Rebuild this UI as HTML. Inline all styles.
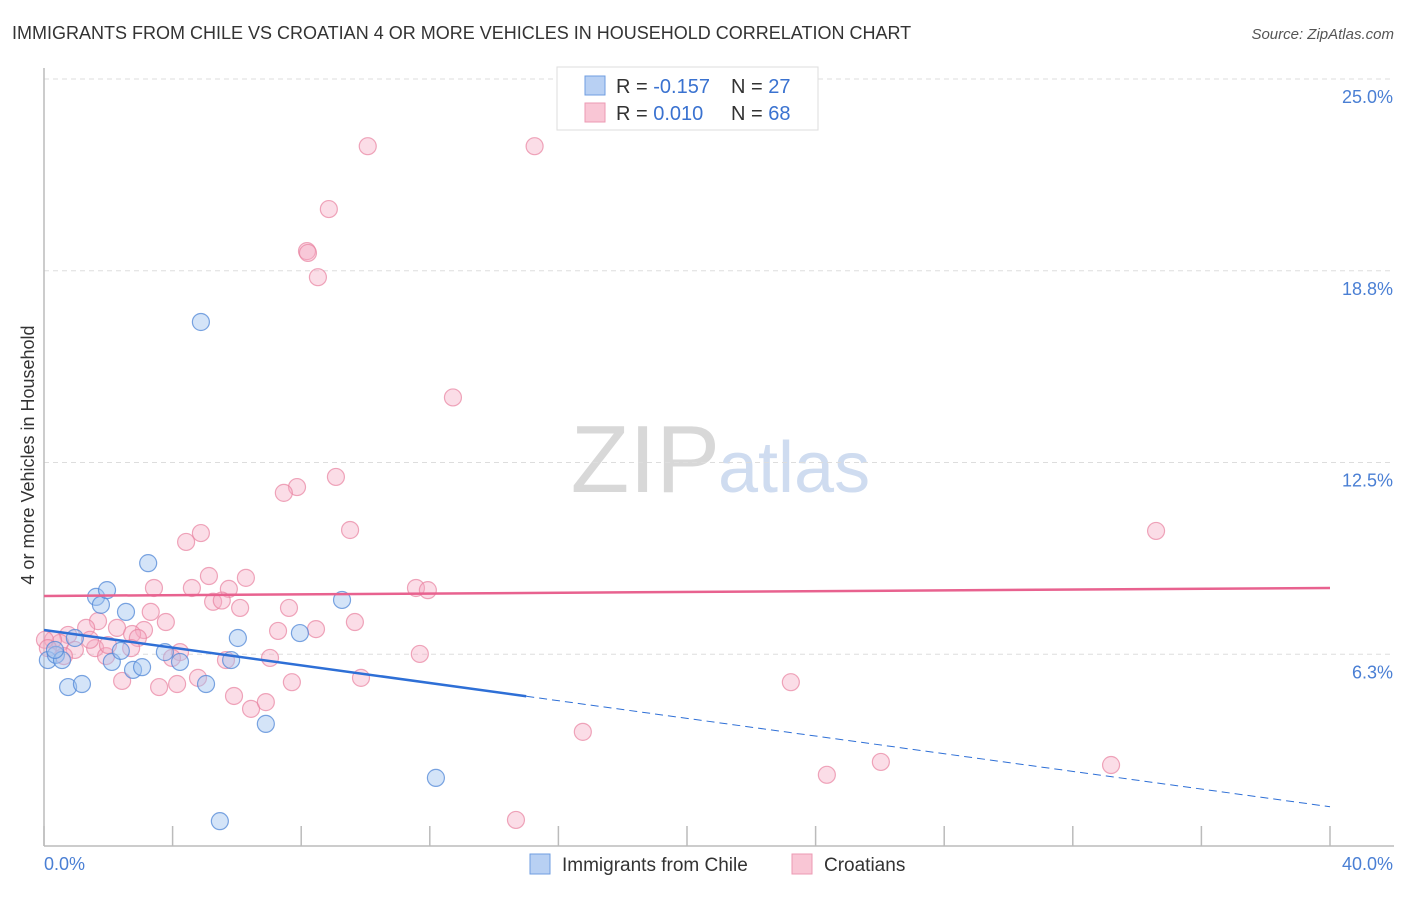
<!DOCTYPE html>
<html><head><meta charset="utf-8"><style>
body{margin:0;background:#fff;font-family:"Liberation Sans",sans-serif;}
svg text{font-family:"Liberation Sans",sans-serif;}
</style></head><body>
<svg id="chart" width="1406" height="892" xmlns="http://www.w3.org/2000/svg">
<text x="12" y="39" font-size="18" fill="#333">IMMIGRANTS FROM CHILE VS CROATIAN 4 OR MORE VEHICLES IN HOUSEHOLD CORRELATION CHART</text>
<text x="1394" y="39" font-size="15" fill="#555" text-anchor="end" font-style="italic">Source: ZipAtlas.com</text>
<text x="720" y="492" font-size="96" fill="#d8d8d8" text-anchor="end" font-family="Liberation Serif">ZIP</text>
<text x="718" y="492" font-size="72" fill="#cfdcf0">atlas</text>
<g id="grid"></g>
<g id="axes"></g>
<g id="pink"></g>
<g id="blue"></g>
<g id="trends"></g>
<text transform="translate(34,455) rotate(-90)" font-size="18" fill="#333" text-anchor="middle">4 or more Vehicles in Household</text>
<text x="44" y="870" font-size="18" fill="#4a7fd4">0.0%</text>
<text x="1393" y="870" font-size="18" fill="#4a7fd4" text-anchor="end">40.0%</text>
<g>
<rect x="557" y="67" width="261" height="63" fill="#fff" stroke="#ddd"/>
<rect x="585" y="76" width="20" height="19" fill="#b8d0f3" stroke="#6f9ee0"/>
<rect x="585" y="103" width="20" height="19" fill="#f9c6d5" stroke="#ec9ab3"/>
<text x="616" y="93" font-size="20" fill="#333">R = <tspan fill="#3a72d0">-0.157</tspan><tspan x="731">N = </tspan><tspan fill="#3a72d0">27</tspan></text>
<text x="616" y="120" font-size="20" fill="#333">R = <tspan fill="#3a72d0"> 0.010</tspan><tspan x="731">N = </tspan><tspan fill="#3a72d0">68</tspan></text>
</g>
<g>
<rect x="530" y="854" width="20" height="20" fill="#b8d0f3" stroke="#6f9ee0"/>
<text x="562" y="871" font-size="19" fill="#333">Immigrants from Chile</text>
<rect x="792" y="854" width="20" height="20" fill="#f9c6d5" stroke="#ec9ab3"/>
<text x="824" y="871" font-size="19" fill="#333">Croatians</text>
</g>
</svg>
<script>
const yTicks=[6.25,12.5,18.75,25];
const yTickLabels=["6.3%","12.5%","18.8%","25.0%"];
const xTicks=[0,4,8,12,16,20,24,28,32,36,40];
const chileX=[0.12,0.37,0.56,0.75,1.18,1.62,1.77,1.96,2.11,2.39,2.55,2.77,3.05,3.24,3.76,4.23,4.88,5.04,5.47,5.82,6.03,6.90,7.96,9.27,12.19,0.96,0.34];
const chileY=[6.06,6.23,6.06,5.18,5.28,8.12,7.86,8.34,6.00,6.36,7.63,5.74,5.83,9.22,6.32,6.00,17.08,5.28,0.81,6.06,6.78,3.98,6.94,8.02,2.22,6.78,6.39];
const croX=[10.07,15.26,8.86,8.18,8.21,8.52,12.72,9.08,7.87,7.46,9.52,34.59,4.88,4.42,5.13,6.28,3.42,4.60,11.57,11.94,5.75,5.26,5.53,6.10,7.62,3.32,3.79,3.11,9.67,8.46,7.28,1.68,1.31,0.75,0.50,0.28,0.96,1.59,2.27,2.74,2.92,2.71,4.23,3.98,5.66,7.03,11.69,1.93,2.43,3.58,4.14,4.79,5.91,6.44,6.90,7.71,9.86,23.23,16.76,24.35,26.03,33.19,14.68,0.03,1.43,1.99,0.12,0.62];
const croY=[22.81,22.81,20.76,19.39,19.33,18.54,14.62,12.03,11.70,11.51,10.30,10.27,10.20,9.91,8.80,8.74,8.41,8.41,8.41,8.34,8.38,7.96,8.00,7.76,7.76,7.63,7.30,7.04,7.30,7.07,7.01,7.33,7.11,6.88,6.62,6.72,6.39,6.45,7.11,6.91,6.78,6.45,6.32,6.13,6.06,6.13,6.26,6.19,5.38,5.18,5.28,5.48,4.89,4.47,4.69,5.34,5.48,5.34,3.72,2.32,2.74,2.64,0.85,6.72,6.72,6.55,6.45,6.19];
const croTrend=[8.15,8.41];
const chileTrend=[7.04,-0.144,15.0];
const L=44,R=1330,T=79,B=846;
const sx=v=>L+v/40*(R-L);
const sy=v=>B-v/25*(B-T);
const NS="http://www.w3.org/2000/svg";
function mk(tag,parent,attrs){const e=document.createElementNS(NS,tag);for(const k in attrs)e.setAttribute(k,attrs[k]);document.getElementById(parent).appendChild(e);return e;}
yTicks.forEach((t,i)=>{
 const g=mk('line','grid',{x1:L,x2:1394,y1:sy(t),y2:sy(t),stroke:'#ddd','stroke-dasharray':'5,4'});
 
 
 const tx=mk('text','grid',{x:1393,y:sy(t)+24,'font-size':18,fill:'#4a7fd4','text-anchor':'end'});
 tx.textContent=yTickLabels[i];
 
 
});
const ya=mk('line','axes',{x1:L,x2:L,y1:68,y2:B,stroke:'#bbb','stroke-width':1.5});


const xa=mk('line','axes',{x1:L,x2:1394,y1:B,y2:B,stroke:'#bbb','stroke-width':1.5});


xTicks.forEach(t=>{
 const l=mk('line','axes',{x1:sx(t),x2:sx(t),y1:826,y2:B,stroke:'#bbb','stroke-width':1.5});
 
 
});
croX.forEach((x,i)=>{
 const c=mk('circle','pink',{cx:sx(x),cy:sy(croY[i]),r:8.5,fill:'rgba(246,170,195,0.4)',stroke:'rgba(232,130,160,0.7)','stroke-width':1.2});
 
 
});
chileX.forEach((x,i)=>{
 const c=mk('circle','blue',{cx:sx(x),cy:sy(chileY[i]),r:8.5,fill:'rgba(160,195,240,0.45)',stroke:'rgba(80,135,215,0.75)','stroke-width':1.2});
 
 
});
const pl=mk('line','trends',{x1:sx(0),x2:sx(40),y1:sy(croTrend[0]),y2:sy(croTrend[1]),stroke:'#e8628f','stroke-width':2.5});


const ce=chileTrend[2];
const bl=mk('line','trends',{x1:sx(0),x2:sx(ce),y1:sy(chileTrend[0]),y2:sy(chileTrend[0]+chileTrend[1]*ce),stroke:'#2e6fd6','stroke-width':2.5});


const bd=mk('line','trends',{x1:sx(ce),x2:sx(40),y1:sy(chileTrend[0]+chileTrend[1]*ce),y2:sy(chileTrend[0]+chileTrend[1]*40),stroke:'#2e6fd6','stroke-width':1,'stroke-dasharray':'8,5'});


</script>
</body></html>
